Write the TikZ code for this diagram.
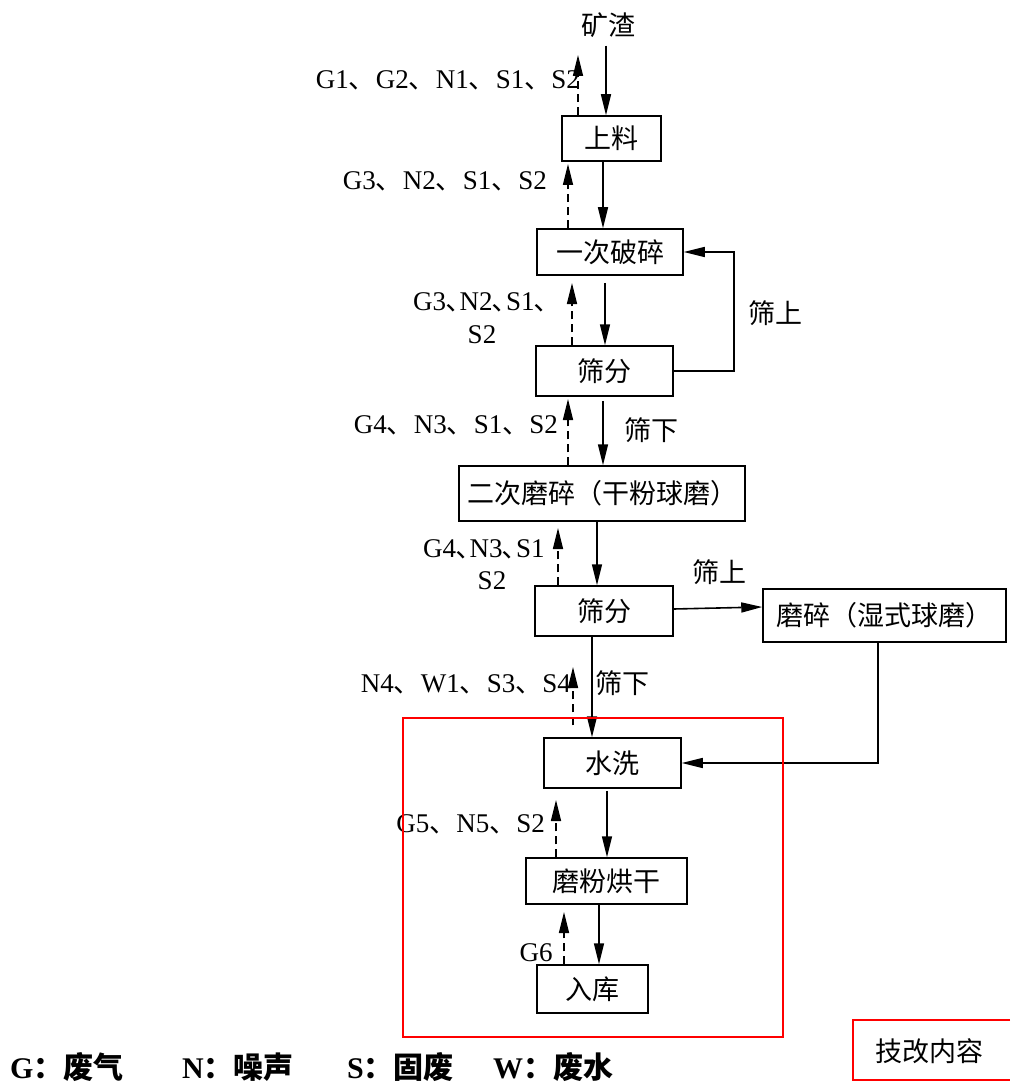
\documentclass[tikz,border=0pt]{standalone}
\usepackage{fontspec}
\setmainfont{Liberation Serif}
\newfontfamily\cjk{Noto Sans CJK SC}
\usetikzlibrary{arrows.meta,calc}
\newcommand{\dun}{{\cjk 、}}
\newcommand{\ndun}{{\cjk ､}}
\begin{document}
\begin{tikzpicture}[x=1pt,y=-1pt,
  box/.style={draw, line width=1.5pt, inner sep=0pt, font=\cjk\fontsize{27}{32}\selectfont},
  arr/.style={line width=1.6pt, -{Triangle[length=21pt,width=10pt]}},
  darr/.style={arr, dash pattern=on 8pt off 5pt},
  lab/.style={inner sep=0pt, font=\fontsize{27}{32}\selectfont},
  cl/.style={inner sep=0pt, font=\cjk\fontsize{27}{32}\selectfont},
  leg/.style={inner sep=0pt, font=\bfseries\fontsize{30}{36}\selectfont},
  redline/.style={draw=red, line width=2pt}]
\useasboundingbox (0,0) rectangle (1010,1083);

% process boxes
\node[cl] (kz) at (608,25) {矿渣};
\node[box, minimum width=99pt, minimum height=45pt] (sl) at (611.5,138.5) {上料};
\node[box, minimum width=146pt, minimum height=46pt] (yc) at (610,252) {一次破碎};
\node[box, minimum width=137pt, minimum height=50pt] (sf1) at (604.5,371) {筛分};
\node[box, minimum width=286pt, minimum height=55pt] (ec) at (602,493.5) {二次磨碎（干粉球磨）};
\node[box, minimum width=138pt, minimum height=50pt] (sf2) at (604,611) {筛分};
\node[box, minimum width=243pt, minimum height=53pt] (ms) at (884.5,615.5) {磨碎（湿式球磨）};
\node[box, minimum width=137pt, minimum height=50pt] (sx) at (612.5,763) {水洗};
\node[box, minimum width=161pt, minimum height=46pt] (mf) at (606.5,881) {磨粉烘干};
\node[box, minimum width=111pt, minimum height=48pt] (rk) at (592.5,989) {入库};

% emission labels
\node[lab, anchor=base east] (l1) at (580,89) {G1\dun G2\dun N1\dun S1\dun S2};
\node[lab, anchor=base east] (l2) at (547,190) {G3\dun N2\dun S1\dun S2};
\node[lab, anchor=base west] (l3) at (413,310) {G3\ndun N2\ndun S1\ndun};
\node[lab, anchor=base] (l3b) at (482,343) {S2};
\node[lab, anchor=base east] (l4) at (558,433) {G4\dun N3\dun S1\dun S2};
\node[lab, anchor=base west] (l5) at (423,557) {G4\ndun N3\ndun S1};
\node[lab, anchor=base] (l5b) at (492,589) {S2};
\node[lab, anchor=base east] (l6) at (571,692) {N4\dun W1\dun S3\dun S4};
\node[lab, anchor=base east] (l7) at (545,832) {G5\dun N5\dun S2};
\node[lab, anchor=base] (l8) at (536,961) {G6};

% flow labels
\node[cl] (t1) at (775,313) {筛上};
\node[cl] (t2) at (651,430) {筛下};
\node[cl] (t3) at (719,572) {筛上};
\node[cl] (t4) at (622,683) {筛下};

% dashed emission arrows
\coordinate (e1) at (578,55);
\coordinate (e2) at (568,164);
\coordinate (e3) at (572,283);
\coordinate (e4) at (568,399);
\coordinate (e5) at (558,528);
\coordinate (e6) at (573,667);
\coordinate (e7) at (556,800);
\coordinate (e8) at (564,912);
\draw[darr] (sl.north -| e1) -- (e1);
\draw[darr] (yc.north -| e2) -- (e2);
\draw[darr] (sf1.north -| e3) -- (e3);
\draw[darr] (ec.north -| e4) -- (e4);
\draw[darr] (sf2.north -| e5) -- (e5);
\draw[darr] ($(sx.north -| e6)+(0,-12)$) -- (e6);
\draw[darr] (mf.north -| e7) -- (e7);
\draw[darr] (rk.north -| e8) -- (e8);

% solid flow arrows
\draw[arr] ($(kz.south)+(-2,8)$) -- ($(sl.north)+(-5.5,0)$);
\draw[arr] ($(sl.south)+(-8.5,0)$) -- ($(sl.south|-yc.north)+(-8.5,0)$);
\draw[arr] ($(yc.south)+(-5,7)$) -- ($(yc.south|-sf1.north)+(-5,0)$);
\draw[arr] ($(sf1.south)+(-1.5,4)$) -- ($(sf1.south|-ec.north)+(-1.5,0)$);
\draw[arr] ($(ec.south)+(-5,0)$) -- ($(ec.south|-sf2.north)+(-5,0)$);
\draw[arr] ($(sf2.east)+(0,-2)$) -- ($(ms.west)+(0,-8.5)$);
\draw[arr] ($(sf2.south)+(-12,0)$) -- ($(sf2.south|-sx.north)+(-12,0)$);
\draw[arr] ($(ms.south)+(-6.5,0)$) |- (sx.east);
\draw[arr] ($(sx.south)+(-5.5,2)$) -- ($(sx.south|-mf.north)+(-5.5,0)$);
\draw[arr] ($(mf.south)+(-7.5,0)$) -- ($(mf.south|-rk.north)+(-7.5,0)$);
\draw[arr] (sf1.east) -- ++(60,0) |- (yc.east);

% red frames
\draw[redline] (403,718) rectangle (783,1037);
\node[cl] (jg) at (929,1051) {技改内容};
\draw[redline] (1010,1020) -- (853,1020) -- (853,1080) -- (1010,1080);

% legend
\node[leg, anchor=base west] (g1) at (10,1078) {G{\cjk ：废气}};
\node[leg, anchor=base west] (g2) at (182,1078) {N{\cjk ：噪声}};
\node[leg, anchor=base west] (g3) at (347,1078) {S{\cjk ：固废}};
\node[leg, anchor=base west] (g4) at (493,1078) {W{\cjk ：废水}};
\end{tikzpicture}
\end{document}
